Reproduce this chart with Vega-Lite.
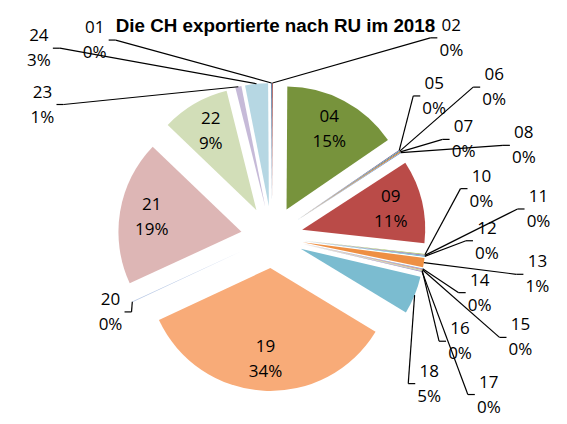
{
  "$schema": "https://vega.github.io/schema/vega-lite/v6.json",
  "width": 567,
  "height": 424,
  "autosize": {"type": "none"},
  "padding": 0,
  "background": "white",
  "title": {"text": "Die CH exportierte  nach RU im 2018", "font": "Liberation Sans", "fontSize": 18.8, "fontWeight": "bold", "color": "#000000", "anchor": "middle", "offset": -36, "dx": -8},
  "config": {"view": {"stroke": null}},
  "data": {"values": [
    {"code": "02", "share": 0.001},
    {"code": "04", "share": 0.153},
    {"code": "05", "share": 0.001},
    {"code": "06", "share": 0.001},
    {"code": "07", "share": 0.001},
    {"code": "08", "share": 0.001},
    {"code": "09", "share": 0.109},
    {"code": "10", "share": 0.001},
    {"code": "11", "share": 0.001},
    {"code": "12", "share": 0.001},
    {"code": "13", "share": 0.012},
    {"code": "14", "share": 0.001},
    {"code": "15", "share": 0.001},
    {"code": "16", "share": 0.001},
    {"code": "17", "share": 0.001},
    {"code": "18", "share": 0.05},
    {"code": "19", "share": 0.343},
    {"code": "20", "share": 0.001},
    {"code": "21", "share": 0.19},
    {"code": "22", "share": 0.089},
    {"code": "23", "share": 0.008},
    {"code": "24", "share": 0.03},
    {"code": "01", "share": 0.001}
  ]},
  "transform": [{"stack": "share", "groupby": [], "as": ["s0", "s1"], "offset": "normalize"}],
  "layer": [
    {
      "mark": {"type": "arc", "outerRadius": 123, "x": 272, "y": 237,
        "xOffset": {"expr": "31*sin(PI*(datum.s0+datum.s1))"},
        "yOffset": {"expr": "-31*cos(PI*(datum.s0+datum.s1))"}},
      "encoding": {
        "theta": {"field": "s0", "type": "quantitative", "scale": {"domain": [0, 1], "range": [0, 6.283185307179586]}},
        "theta2": {"field": "s1"},
        "color": {"field": "code", "type": "nominal", "legend": null, "scale": {
          "domain": ["01","02","04","05","06","07","08","09","10","11","12","13","14","15","16","17","18","19","20","21","22","23","24"],
          "range": ["#376092","#953735","#77933C","#604A7B","#31859C","#E46C0A","#4F81BD","#BA4B48","#9BBB59","#8064A2","#4BACC6","#EE8F43","#7EA1D3","#D27F7C","#B5CC86","#A08BBB","#7BBCD0","#F8AB78","#B9C9E5","#DDB6B5","#D2DEB8","#C6BAD8","#B6D7E3"]}}
      }
    },
    {
      "transform": [{"filter": "datum.share >= 0.08"}],
      "layer": [
        {"mark": {"type": "text", "x": 272, "y": 237, "dy": -12, "font": "Open Sans", "fontSize": 17, "color": "#000000", "align": "center", "baseline": "middle",
          "xOffset": {"expr": "122*sin(PI*(datum.s0+datum.s1))"},
          "yOffset": {"expr": "-122*cos(PI*(datum.s0+datum.s1))"}},
         "encoding": {"text": {"field": "code", "type": "nominal"}}},
        {"mark": {"type": "text", "x": 272, "y": 237, "dy": 13, "font": "Open Sans", "fontSize": 17, "color": "#000000", "align": "center", "baseline": "middle",
          "xOffset": {"expr": "122*sin(PI*(datum.s0+datum.s1))"},
          "yOffset": {"expr": "-122*cos(PI*(datum.s0+datum.s1))"}},
         "encoding": {"text": {"field": "share", "type": "quantitative", "format": ".0%"}}}
      ]
    },
    {
      "transform": [
        {"filter": "datum.share < 0.08 && datum.s0 + datum.s1 < 1"},
        {"window": [{"op": "row_number", "as": "k"}], "sort": [{"field": "s0", "order": "ascending"}]}
      ],
      "layer": [
        {"mark": {"type": "rule", "color": "#000000", "strokeWidth": 1.2,
          "xOffset": {"expr": "154*sin(PI*(datum.s0+datum.s1))"},
          "yOffset": {"expr": "-154*cos(PI*(datum.s0+datum.s1))"},
          "x2Offset": {"expr": "(datum.k%2 ? 268 : 215)*sin((42+7*(datum.k-1))*PI/180)-21"},
          "y2Offset": {"expr": "-(datum.k%2 ? 268 : 215)*cos((42+7*(datum.k-1))*PI/180)"}},
         "encoding": {"x": {"value": 272}, "y": {"value": 237}, "x2": {"value": 272}, "y2": {"value": 237}}},
        {"mark": {"type": "rule", "color": "#000000", "strokeWidth": 1.2,
          "xOffset": {"expr": "(datum.k%2 ? 268 : 215)*sin((42+7*(datum.k-1))*PI/180)-21"},
          "yOffset": {"expr": "-(datum.k%2 ? 268 : 215)*cos((42+7*(datum.k-1))*PI/180)"},
          "x2Offset": {"expr": "(datum.k%2 ? 268 : 215)*sin((42+7*(datum.k-1))*PI/180)-14"},
          "y2Offset": {"expr": "-(datum.k%2 ? 268 : 215)*cos((42+7*(datum.k-1))*PI/180)"}},
         "encoding": {"x": {"value": 272}, "y": {"value": 237}, "x2": {"value": 272}, "y2": {"value": 237}}},
        {"mark": {"type": "text", "x": 272, "y": 237, "dy": -12, "font": "Open Sans", "fontSize": 17, "color": "#000000", "align": "center", "baseline": "middle",
          "xOffset": {"expr": "(datum.k%2 ? 268 : 215)*sin((42+7*(datum.k-1))*PI/180)"},
          "yOffset": {"expr": "-(datum.k%2 ? 268 : 215)*cos((42+7*(datum.k-1))*PI/180)"}},
         "encoding": {"text": {"field": "code", "type": "nominal"}}},
        {"mark": {"type": "text", "x": 272, "y": 237, "dy": 13, "font": "Open Sans", "fontSize": 17, "color": "#000000", "align": "center", "baseline": "middle",
          "xOffset": {"expr": "(datum.k%2 ? 268 : 215)*sin((42+7*(datum.k-1))*PI/180)"},
          "yOffset": {"expr": "-(datum.k%2 ? 268 : 215)*cos((42+7*(datum.k-1))*PI/180)"}},
         "encoding": {"text": {"field": "share", "type": "quantitative", "format": ".0%"}}}
      ]
    },
    {
      "transform": [
        {"filter": "datum.share < 0.08 && datum.s0 + datum.s1 >= 1"},
        {"window": [{"op": "row_number", "as": "k"}], "sort": [{"field": "s0", "order": "descending"}]}
      ],
      "layer": [
        {"mark": {"type": "rule", "color": "#000000", "strokeWidth": 1.2,
          "xOffset": {"expr": "154*sin(PI*(datum.s0+datum.s1))"},
          "yOffset": {"expr": "-154*cos(PI*(datum.s0+datum.s1))"},
          "x2Offset": {"expr": "(180*(datum.s0+datum.s1) < 318-9*(datum.k-1) ? 178 : (datum.k%2 ? 265 : 300))*sin(min(318-9*(datum.k-1), 180*(datum.s0+datum.s1))*PI/180)+21"},
          "y2Offset": {"expr": "-(180*(datum.s0+datum.s1) < 318-9*(datum.k-1) ? 178 : (datum.k%2 ? 265 : 300))*cos(min(318-9*(datum.k-1), 180*(datum.s0+datum.s1))*PI/180)"}},
         "encoding": {"x": {"value": 272}, "y": {"value": 237}, "x2": {"value": 272}, "y2": {"value": 237}}},
        {"mark": {"type": "rule", "color": "#000000", "strokeWidth": 1.2,
          "xOffset": {"expr": "(180*(datum.s0+datum.s1) < 318-9*(datum.k-1) ? 178 : (datum.k%2 ? 265 : 300))*sin(min(318-9*(datum.k-1), 180*(datum.s0+datum.s1))*PI/180)+21"},
          "yOffset": {"expr": "-(180*(datum.s0+datum.s1) < 318-9*(datum.k-1) ? 178 : (datum.k%2 ? 265 : 300))*cos(min(318-9*(datum.k-1), 180*(datum.s0+datum.s1))*PI/180)"},
          "x2Offset": {"expr": "(180*(datum.s0+datum.s1) < 318-9*(datum.k-1) ? 178 : (datum.k%2 ? 265 : 300))*sin(min(318-9*(datum.k-1), 180*(datum.s0+datum.s1))*PI/180)+14"},
          "y2Offset": {"expr": "-(180*(datum.s0+datum.s1) < 318-9*(datum.k-1) ? 178 : (datum.k%2 ? 265 : 300))*cos(min(318-9*(datum.k-1), 180*(datum.s0+datum.s1))*PI/180)"}},
         "encoding": {"x": {"value": 272}, "y": {"value": 237}, "x2": {"value": 272}, "y2": {"value": 237}}},
        {"mark": {"type": "text", "x": 272, "y": 237, "dy": -12, "font": "Open Sans", "fontSize": 17, "color": "#000000", "align": "center", "baseline": "middle",
          "xOffset": {"expr": "(180*(datum.s0+datum.s1) < 318-9*(datum.k-1) ? 178 : (datum.k%2 ? 265 : 300))*sin(min(318-9*(datum.k-1), 180*(datum.s0+datum.s1))*PI/180)"},
          "yOffset": {"expr": "-(180*(datum.s0+datum.s1) < 318-9*(datum.k-1) ? 178 : (datum.k%2 ? 265 : 300))*cos(min(318-9*(datum.k-1), 180*(datum.s0+datum.s1))*PI/180)"}},
         "encoding": {"text": {"field": "code", "type": "nominal"}}},
        {"mark": {"type": "text", "x": 272, "y": 237, "dy": 13, "font": "Open Sans", "fontSize": 17, "color": "#000000", "align": "center", "baseline": "middle",
          "xOffset": {"expr": "(180*(datum.s0+datum.s1) < 318-9*(datum.k-1) ? 178 : (datum.k%2 ? 265 : 300))*sin(min(318-9*(datum.k-1), 180*(datum.s0+datum.s1))*PI/180)"},
          "yOffset": {"expr": "-(180*(datum.s0+datum.s1) < 318-9*(datum.k-1) ? 178 : (datum.k%2 ? 265 : 300))*cos(min(318-9*(datum.k-1), 180*(datum.s0+datum.s1))*PI/180)"}},
         "encoding": {"text": {"field": "share", "type": "quantitative", "format": ".0%"}}}
      ]
    }
  ]
}
